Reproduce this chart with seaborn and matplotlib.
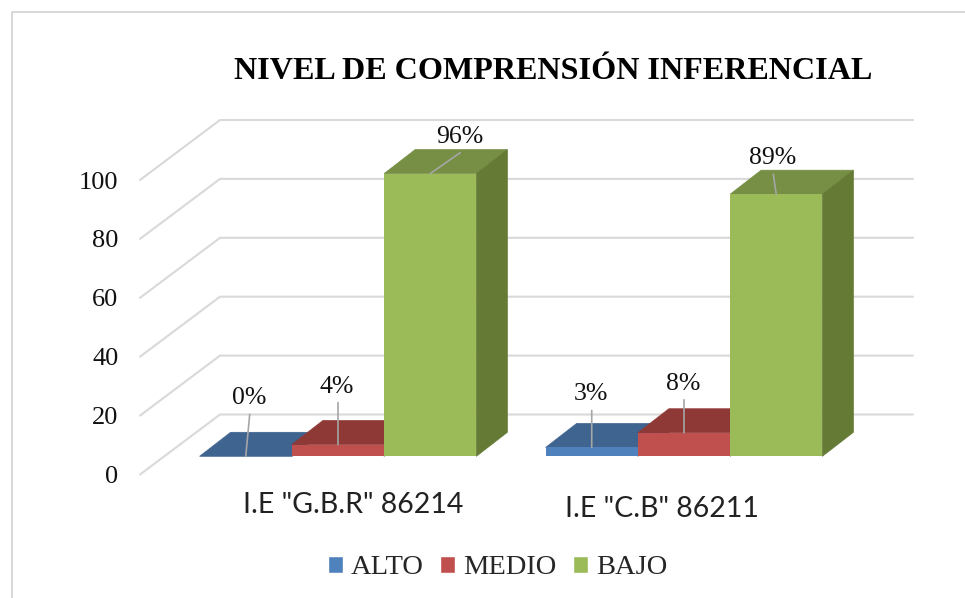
import matplotlib
matplotlib.use("Agg")
import matplotlib.pyplot as plt
import pandas as pd
import seaborn as sns
from matplotlib.lines import Line2D
from matplotlib.patches import Polygon

# Values
escuelas = ['I.E "G.B.R" 86214', 'I.E "C.B" 86211']
niveles = ["ALTO", "MEDIO", "BAJO"]
alto = [0, 3]
medio = [4, 8]
bajo = [96, 89]
ticks = [0, 20, 40, 60, 80, 100]

colores = ["#4F81BD", "#C0504D", "#9BBB59"]
colores_top = ["#3F6490", "#8F3937", "#778F45"]
colores_side = ["#3A5A80", "#803432", "#657A35"]
gris = "#D9D9D9"

df = pd.DataFrame({
    "escuela": escuelas * 3,
    "nivel": [n for n in niveles for _ in escuelas],
    "pct": alto + medio + bajo,
})

sns.set_theme(style="white")
plt.rcParams["font.family"] = "Liberation Serif"

fig = plt.figure(figsize=(9.65, 5.98), dpi=100)
W, H = 965, 598

# axes box in pixels, front plane of the fake 3D chart
left, right, top, bottom = 140, 913, 120, 474.5
ax = fig.add_axes([left / W, 1 - bottom / H, (right - left) / W, (bottom - top) / H])

sns.barplot(data=df, x="escuela", y="pct", hue="nivel", hue_order=niveles,
            order=escuelas, palette=colores, saturation=1, width=0.8, gap=0,
            ax=ax)

# pixel scales
px_x = 346.0      # pixels per category
px_y = 2.945      # pixels per percent
base_y = 456.3    # pixel row of value 0 on the bars

ax.set_xlim((left - 338) / px_x, (right - 338) / px_x)
ax.set_ylim((base_y - bottom) / px_y, (base_y - top) / px_y)
floor = ax.get_ylim()[0]

# walls: diagonal on the floor side plus horizontal line at the back
wall_dx = 80 / px_x
wall_dy = 60 / px_y
x0 = ax.get_xlim()[0]
x1 = ax.get_xlim()[1]
for t in ticks:
    yf = floor + t
    ax.plot([x0, x0 + wall_dx, x1], [yf, yf + wall_dy, yf + wall_dy],
            color=gris, lw=1.5, zorder=1, clip_on=False)

# depth of the bars
bar_dx = 31 / px_x
bar_dy = 24 / px_y
for h, cont in enumerate(ax.containers):
    for bar in cont:
        xa = bar.get_x()
        xb = xa + bar.get_width()
        v = bar.get_height()
        z = 3 + h
        bar.set_zorder(z + 0.5)
        bar.set_linewidth(0)
        ax.add_patch(Polygon([(xa, v), (xb, v), (xb + bar_dx, v + bar_dy), (xa + bar_dx, v + bar_dy)],
                             closed=True, fc=colores_top[h], ec=colores_top[h], lw=0.5, zorder=z))
        ax.add_patch(Polygon([(xb, 0), (xb + bar_dx, bar_dy), (xb + bar_dx, v + bar_dy), (xb, v)],
                             closed=True, fc=colores_side[h], ec=colores_side[h], lw=0.5, zorder=z))

# data labels with leader lines, offsets in pixels from the bar top
offsets = {
    (0, 0): (4, 42), (0, 1): (0, 37),
    (1, 0): (0, 42), (1, 1): (0, 33),
    (2, 0): (30, 21), (2, 1): (-3, 20),
}
for h, cont in enumerate(ax.containers):
    for i, bar in enumerate(cont):
        cx = bar.get_x() + bar.get_width() / 2
        v = bar.get_height()
        dx, dy = offsets[(h, i)]
        ax.annotate("", xy=(cx, v), xytext=(dx, dy), textcoords="offset pixels",
                    arrowprops=dict(arrowstyle="-", color="#A6A6A6", lw=1.2,
                                    shrinkA=0, shrinkB=0), zorder=10)
        ax.annotate(f"{v:.0f}%", xy=(cx, v), xytext=(dx - 1, dy + 16),
                    textcoords="offset pixels", ha="center", va="center",
                    fontsize=18.5, color="#111111", zorder=10)

# tick labels sit at the front of the floor diagonals
ax.set_yticks([floor + t for t in ticks], labels=[str(t) for t in ticks])
ax.set_xticks([(353 - 338) / px_x, 1 + (662 - 684) / px_x], labels=escuelas)
ax.tick_params(axis="y", length=0, pad=15.5, labelsize=19, labelcolor="#111111")
ax.tick_params(axis="x", length=0, pad=12.5, labelsize=20.5, labelcolor="#222222")
for lab in ax.get_xticklabels():
    lab.set_family("Lato")
ax.get_xticklabels()[1].set_y(-0.011)
ax.set_xlabel("")
ax.set_ylabel("")
sns.despine(ax=ax, left=True, bottom=True)

sns.move_legend(ax, "center", bbox_to_anchor=(497.5 / W, 1 - 568 / H),
                bbox_transform=fig.transFigure, ncol=3, frameon=False, title=None,
                fontsize=20.5, handlelength=0.52, handleheight=0.52,
                handletextpad=0.29, columnspacing=0.58)

fig.suptitle("NIVEL DE COMPRENSIÓN INFERENCIAL", x=553 / W, y=1 - 79 / H,
             va="baseline", ha="center", fontsize=23.1, fontweight="bold", color="black")

# chart frame, only top and left show in the crop
fig.add_artist(Line2D([12 / W, 12 / W, 1], [0, 1 - 12 / H, 1 - 12 / H], color=gris, lw=1.5))

fig.savefig("out.png", dpi=100)
